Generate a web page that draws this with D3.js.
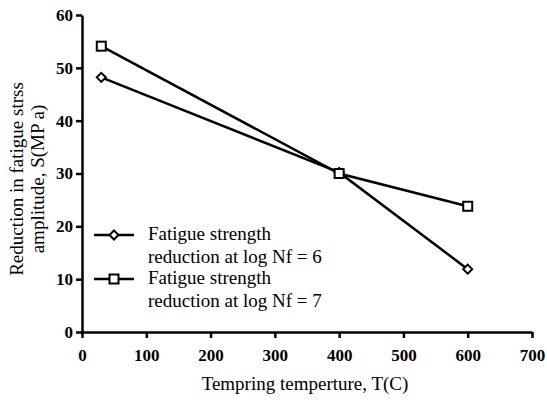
<!DOCTYPE html>
<html><head><meta charset="utf-8">
<script src="https://cdn.jsdelivr.net/npm/d3@7"></script>
<style>body{margin:0;background:#fff}svg{display:block}svg text{font-family:"Liberation Serif","Times New Roman",serif;fill:#000}</style>
</head><body><svg id="c" width="547" height="400"></svg>
<script>
const temps6 = [30, 400, 600];
const vals6 = [48.2, 30.2, 11.9];
const temps7 = [30, 400, 600];
const vals7 = [54.1, 30.0, 23.8];
const xTicks = [0, 100, 200, 300, 400, 500, 600, 700];
const yTicks = [0, 10, 20, 30, 40, 50, 60];
const seriesNames = [["Fatigue strength", "reduction at log Nf = 6"], ["Fatigue strength", "reduction at log Nf = 7"]];
const xTitle = "Tempring temperture, T(C)";
const yTitle = ["Reduction in fatigue strss", "amplitude, S(MP a)"];

const svg = d3.select("#c");
const m = {l: 82, r: 15, t: 15, b: 68};
const W = 547, H = 400;
const x = d3.scaleLinear().domain([0, 700]).range([m.l, W - m.r]);
const y = d3.scaleLinear().domain([0, 60]).range([H - m.b, m.t]);

const xa = svg.append("g").attr("transform", `translate(0,${y(0)})`)
  .call(d3.axisBottom(x).tickValues(xTicks).tickSize(6).tickSizeOuter(0).tickPadding(11));
const ya = svg.append("g").attr("transform", `translate(${x(0)},0)`)
  .call(d3.axisLeft(y).tickValues(yTicks).tickSize(6).tickSizeOuter(0).tickPadding(3));
[xa, ya].forEach(a => {
  a.attr("font-family", null);
  a.select(".domain").attr("stroke", "#000").attr("stroke-width", 2.5);
  a.selectAll(".tick line").attr("stroke", "#000").attr("stroke-width", 2.5);
  a.selectAll(".tick text").attr("font-size", 17).attr("font-weight", "bold").attr("fill", "#000");
});

const line = d3.line().x(d => x(d[0])).y(d => y(d[1]));
const d6 = temps6.map((t, i) => [t, vals6[i]]);
const d7 = temps7.map((t, i) => [t, vals7[i]]);
svg.append("path").datum(d6).attr("d", line).attr("fill", "none").attr("stroke", "#000").attr("stroke-width", 2.5);
svg.append("path").datum(d7).attr("d", line).attr("fill", "none").attr("stroke", "#000").attr("stroke-width", 2.5);

const diamond = (g, cx, cy) => g.append("path")
  .attr("d", `M${cx},${cy-4.5}L${cx+4.5},${cy}L${cx},${cy+4.5}L${cx-4.5},${cy}Z`)
  .attr("fill", "#fff").attr("stroke", "#000").attr("stroke-width", 2);
const square = (g, cx, cy) => g.append("rect")
  .attr("x", cx - 4.5).attr("y", cy - 4.5).attr("width", 9).attr("height", 9)
  .attr("fill", "#fff").attr("stroke", "#000").attr("stroke-width", 2);
d6.forEach(d => diamond(svg, x(d[0]), y(d[1])));
d7.forEach(d => square(svg, x(d[0]), y(d[1])));

// legend
const lg = svg.append("g");
[[235, diamond], [279, square]].forEach(([ly, mk], i) => {
  lg.append("line").attr("x1", 94).attr("x2", 134).attr("y1", ly).attr("y2", ly).attr("stroke", "#000").attr("stroke-width", 2.5);
  mk(lg, 114, ly);
  seriesNames[i].forEach((s, j) => {
    lg.append("text").attr("x", 148).attr("y", ly + 5 + j * 23).attr("font-size", 19).text(s);
  });
});

svg.append("text").attr("x", 305).attr("y", 390).attr("text-anchor", "middle")
  .attr("font-size", 19).text(xTitle);
const yt = svg.append("text").attr("transform", `translate(0,179) rotate(-90)`).attr("text-anchor", "middle").attr("font-size", 19);
yt.append("tspan").attr("x", 0).attr("y", 23).text(yTitle[0]);
yt.append("tspan").attr("x", 0).attr("y", 44).text(yTitle[1]);
</script></body></html>
